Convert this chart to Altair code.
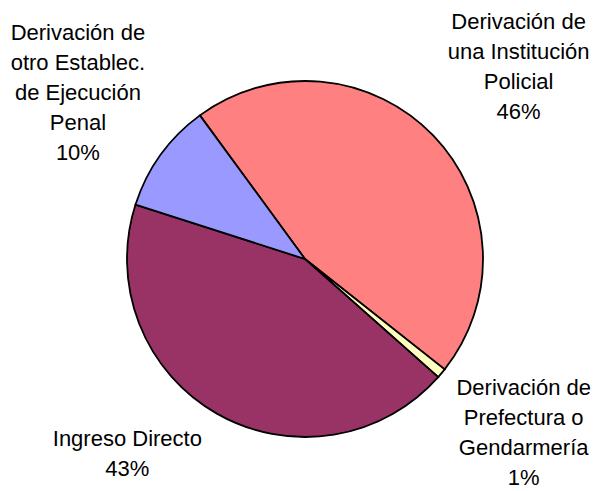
import math
import altair as alt
import pandas as pd

# Data
categorias = [
    "Derivación de\nuna Institución\nPolicial",
    "Derivación de\nPrefectura o\nGendarmería",
    "Ingreso Directo",
    "Derivación de\notro Establec.\nde Ejecución\nPenal",
]
porcentajes = ["46%", "1%", "43%", "10%"]
valores = [45.7, 0.9, 43.4, 10.0]
colores = ["#FF8080", "#FFFFC0", "#993366", "#9999FF"]

df = pd.DataFrame({
    "idx": list(range(len(categorias))),
    "cat": categorias,
    "valor": valores,
    "etiqueta": [c + "\n" + p for c, p in zip(categorias, porcentajes)],
})

total = sum(valores)
start = math.radians(323.8)
theta_scale = alt.Scale(domain=[0, total], range=[start, start + 2 * math.pi])

base = alt.Chart(df).transform_stack(
    stack="valor", groupby=[], as_=["t0", "t1"], sort=[alt.SortField("idx", order="ascending")]
).transform_calculate(mid="(datum.t0 + datum.t1) / 2")

arcs = base.mark_arc(outerRadius=178, stroke="black", strokeWidth=1.8).encode(
    theta=alt.Theta("t0:Q", scale=theta_scale, stack=None),
    theta2="t1:Q",
    color=alt.Color("cat:N", scale=alt.Scale(domain=categorias, range=colores), legend=None),
)

offsets = [(12, -43), (4, -51), (-39, -63), (0, -62)]
layers = [arcs]
for i, (ox, oy) in enumerate(offsets):
    layers.append(
        base.transform_filter(alt.datum.idx == i).mark_text(
            radius=280, dx=ox, dy=oy, lineBreak="\n", lineHeight=30,
            font="Liberation Sans", fontSize=22, color="black",
            align="center", baseline="middle",
        ).encode(
            theta=alt.Theta("mid:Q", scale=theta_scale, stack=None),
            text="etiqueta:N",
        )
    )

chart = alt.layer(*layers).properties(
    width=400, height=400,
    padding={"left": 97, "top": 51, "right": 87, "bottom": 30},
    autosize=alt.AutoSizeParams(type="none"),
).configure_view(stroke=None)

chart.save("out.html", embed_options={"renderer": "svg", "actions": False})
